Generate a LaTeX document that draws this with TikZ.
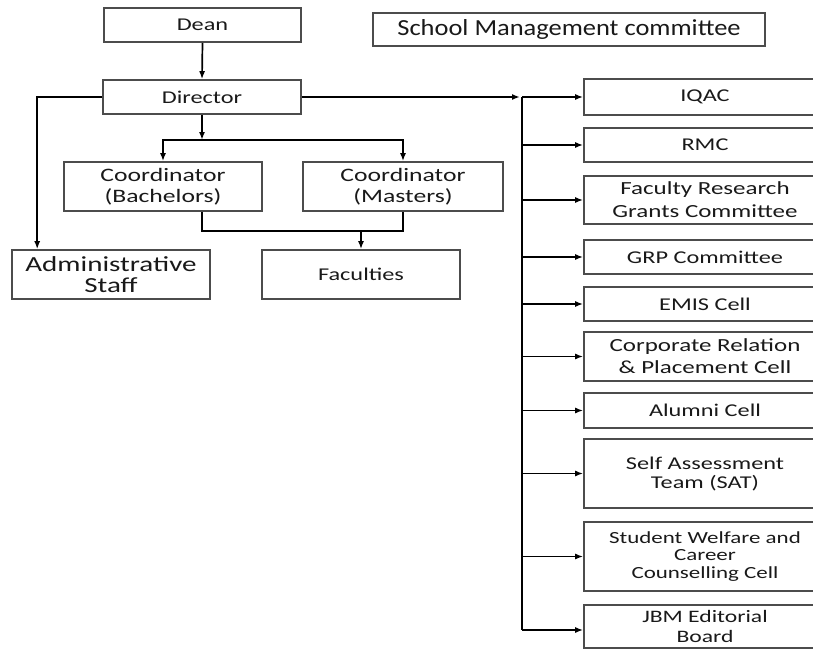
\documentclass[tikz,border=0pt]{standalone}
\usepackage{fontspec}
\setmainfont{Carlito}[FakeStretch=1.35]
\newfontfamily\smcfont{Carlito}[FakeStretch=1.15]
\usetikzlibrary{arrows.meta,calc}
\begin{document}
\begin{tikzpicture}[x=1pt,y=-1pt,
  box/.style={draw=black!70, line width=1.6pt, rectangle, inner sep=0pt, align=center,
              font=\fontsize{18}{21}\selectfont, text=black!90},
  rbox/.style={box, minimum width=242pt},
  conn/.style={line width=1.7pt, draw=black},
  arr/.style={conn, -{Latex[length=8pt,width=6pt]}}
]
\useasboundingbox (0,0) rectangle (813,650);
\clip (0,0) rectangle (813,650);

% left hierarchy
\node[box, minimum width=197pt, minimum height=34pt] (dean) at (202.5,25) {Dean};
\node[box, font=\smcfont\fontsize{23}{26}\selectfont, minimum width=392pt, minimum height=33pt] (smc) at (569,29.5) {School Management committee};
\node[box, minimum width=198pt, minimum height=34pt] (dir) at (202,97) {Director};
\node[box, minimum width=198pt, minimum height=49pt, font=\fontsize{19}{21}\selectfont] (bach) at (163,186.5) {Coordinator\\(Bachelors)};
\node[box, minimum width=200pt, minimum height=49pt, font=\fontsize{19}{21}\selectfont] (mast) at (403,186.5) {Coordinator\\(Masters)};
\node[box, minimum width=198pt, minimum height=49pt, font=\fontsize{21.5}{21}\selectfont] (admin) at (111,274.5) {Administrative\\Staff};
\node[box, minimum width=198pt, minimum height=49pt] (fac) at (361,274.5) {Faculties};

% right column
\node[rbox, minimum height=36pt, font=\fontsize{18}{21}\selectfont] (iqac) at (705,97) {IQAC};
\node[rbox, minimum height=34pt] (rmc) at (705,145) {RMC};
\node[rbox, minimum height=48pt, font=\fontsize{18.5}{23}\selectfont] (frg) at (705,200) {Faculty Research\\Grants Committee};
\node[rbox, minimum height=34pt] (grp) at (705,257) {GRP Committee};
\node[rbox, minimum height=34pt] (emis) at (705,304) {EMIS Cell};
\node[rbox, minimum height=49pt, font=\fontsize{18.5}{22}\selectfont] (corp) at (705,356.5) {Corporate Relation\\\& Placement Cell};
\node[rbox, minimum height=35pt] (alum) at (705,410.5) {Alumni Cell};
\node[rbox, minimum height=69pt, font=\fontsize{18}{19}\selectfont] (sat) at (705,473.5) {Self Assessment\\Team (SAT)};
\node[rbox, minimum height=69pt, font=\fontsize{17}{17.5}\selectfont] (swc) at (705,556.5) {Student Welfare and\\Career\\Counselling Cell};
\node[rbox, minimum height=43pt, font=\fontsize{17.5}{20}\selectfont] (jbm) at (705,626.5) {JBM Editorial\\Board};

% connectors
\draw[arr] (dean.south) -- (dir.north);
\draw[arr] (dir.west) -| ($(admin.north west)+(26,0)$);

\coordinate (split) at (202,140);
\draw[arr] (dir.south) -- (split);
\draw[arr] (split) -| (bach.north);
\draw[arr] (split) -| (mast.north);

\coordinate (join) at (361,231);
\draw[conn] ($(bach.south)+(39,0)$) |- (join) -| (mast.south);
\draw[arr] (join) -- (fac.north);

\coordinate (busTop) at (522,97);
\coordinate (busBot) at (522,630);
\draw[arr, shorten >=2pt] (dir.east) -- (busTop);
\draw[conn] (busTop) -- (busBot);
\foreach \n in {iqac,rmc,frg,grp,emis,corp,alum,sat,swc}
  \draw[arr] (busTop |- \n.west) -- (\n.west);
\draw[arr] (busBot) -- (busBot -| jbm.west);
\end{tikzpicture}
\end{document}
